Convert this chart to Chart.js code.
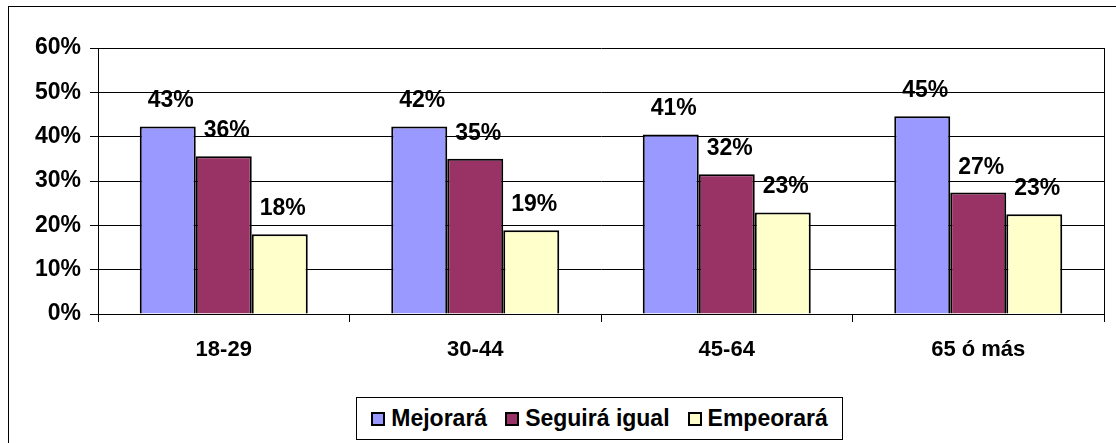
<!DOCTYPE html>
<html>
<head>
<meta charset="utf-8">
<script src="https://cdn.jsdelivr.net/npm/chart.js@4.4.1/dist/chart.umd.min.js"></script>
<style>
  html, body { margin: 0; padding: 0; background: #fff; overflow: hidden; }
  #wrap { position: relative; width: 1116px; height: 443px; }
  #frame { position: absolute; left: 8px; top: 6px; width: 1200px; height: 600px; border: 1px solid #000; }
  #legend {
    position: absolute; left: 356px; top: 397px; width: 485px; height: 41px;
    border: 1px solid #000; background: #fff;
    display: flex; align-items: center; justify-content: center;
    font: bold 23px "Liberation Sans", Arial, sans-serif; color: #000;
  }
  .item { display: flex; align-items: center; margin: 0 9px; }
  .swatch { width: 10px; height: 10px; border: 2px solid #000; margin-right: 6px; }
</style>
</head>
<body>
<div id="wrap">
  <div id="frame"></div>
  <canvas id="chart"></canvas>
  <div id="legend"></div>
</div>
<script>
// Respuestas por grupo de edad

const ageGroups = ["18-29", "30-44", "45-64", "65 ó más"];
const seriesNames = ["Mejorará", "Seguirá igual", "Empeorará"];
const seriesColors = ["#9999FF", "#993366", "#FFFFCC"];

// bar heights as drawn (%)
const mejorara = [42.3, 42.3, 40.5, 44.6];
const seguiraIgual = [35.6, 35.0, 31.5, 27.4];
const empeorara = [18.0, 18.9, 22.9, 22.5];

// labels printed above the bars (%)
const mejoraraLabels = [43, 42, 41, 45];
const seguiraIgualLabels = [36, 35, 32, 27];
const empeoraraLabels = [18, 19, 23, 23];

const yTicks = [0, 10, 20, 30, 40, 50, 60];

const FONT = '"Liberation Sans", Arial, sans-serif';

const valueLabels = {
  id: 'valueLabels',
  afterDatasetsDraw(chart) {
    const ctx = chart.ctx;
    ctx.save();
    ctx.font = 'bold 23px ' + FONT;
    ctx.fillStyle = '#000';
    ctx.textAlign = 'center';
    ctx.textBaseline = 'alphabetic';
    chart.data.datasets.forEach((ds, i) => {
      chart.getDatasetMeta(i).data.forEach((bar, j) => {
        ctx.fillText(ds.shownLabels[j] + '%', bar.x + 3, bar.y - 19);
      });
    });
    ctx.restore();
  }
};

const plotBorder = {
  id: 'plotBorder',
  afterDraw(chart) {
    const { right, top, bottom } = chart.chartArea;
    const ctx = chart.ctx;
    ctx.save();
    ctx.strokeStyle = '#000';
    ctx.lineWidth = 1;
    ctx.beginPath();
    const x = Math.round(right) + 0.5;
    ctx.moveTo(x, Math.round(top));
    ctx.lineTo(x, Math.round(bottom) + 8);
    ctx.stroke();
    ctx.restore();
  }
};

const datasets = [
  { label: seriesNames[0], data: mejorara, shownLabels: mejoraraLabels, backgroundColor: seriesColors[0] },
  { label: seriesNames[1], data: seguiraIgual, shownLabels: seguiraIgualLabels, backgroundColor: seriesColors[1] },
  { label: seriesNames[2], data: empeorara, shownLabels: empeoraraLabels, backgroundColor: seriesColors[2] }
].map(d => ({
  ...d,
  borderColor: '#000',
  borderWidth: 2,
  categoryPercentage: 0.668,
  barPercentage: 1.0
}));

new Chart(document.getElementById('chart'), {
  type: 'bar',
  data: { labels: ageGroups, datasets },
  options: {
    responsive: true,
    maintainAspectRatio: false,
    animation: false,
    layout: { padding: { left: 0, top: 48, right: 12, bottom: 79 } },
    plugins: {
      legend: { display: false },
      tooltip: { enabled: false }
    },
    scales: {
      x: {
        afterFit(scale) { scale.height = 50; },
        grid: { display: true, drawOnChartArea: false, offset: true, color: '#000', tickLength: 8 },
        border: { display: true, color: '#000' },
        ticks: { color: '#000', font: { family: FONT, size: 22, weight: 'bold' }, padding: 15 }
      },
      y: {
        min: 0,
        max: 60,
        afterFit(scale) { scale.width = 98; },
        afterBuildTicks(scale) { scale.ticks = yTicks.map(v => ({ value: v })); },
        grid: { color: '#000', tickLength: 8 },
        border: { display: true, color: '#000' },
        ticks: {
          color: '#000',
          padding: 9,
          font: { family: FONT, size: 23, weight: 'bold' },
          callback: v => v + '%'
        }
      }
    }
  },
  plugins: [valueLabels, plotBorder]
});

// legend box
const legend = document.getElementById('legend');
seriesNames.forEach((name, i) => {
  const item = document.createElement('div');
  item.className = 'item';
  item.innerHTML = '<span class="swatch" style="background:' + seriesColors[i] + '"></span>' + name;
  legend.appendChild(item);
});
</script>
</body>
</html>
